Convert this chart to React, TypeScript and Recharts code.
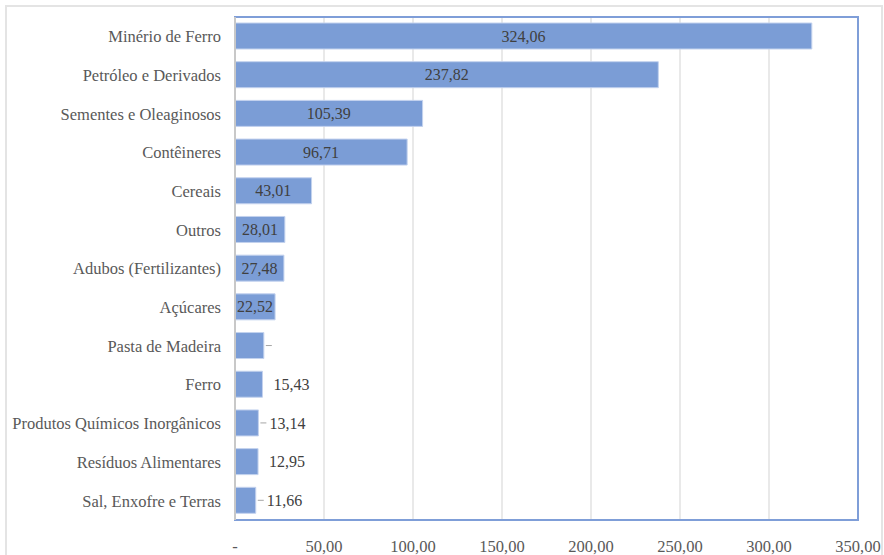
import React from "react";
import {
  BarChart, Bar, XAxis, YAxis, CartesianGrid, ReferenceArea, LabelList,
} from "recharts";

const categories = [
  "Minério de Ferro",
  "Petróleo e Derivados",
  "Sementes e Oleaginosos",
  "Contêineres",
  "Cereais",
  "Outros",
  "Adubos (Fertilizantes)",
  "Açúcares",
  "Pasta de Madeira",
  "Ferro",
  "Produtos Químicos Inorgânicos",
  "Resíduos Alimentares",
  "Sal, Enxofre e Terras",
];

const values = [324.06, 237.82, 105.39, 96.71, 43.01, 28.01, 27.48, 22.52, 16.2, 15.43, 13.14, 12.95, 11.66];

const xTicks = [0, 50, 100, 150, 200, 250, 300, 350];

// labels Excel left off, and the ones drawn with a short leader line
const hiddenLabels = ["Pasta de Madeira"];
const leaderLabels = ["Pasta de Madeira", "Produtos Químicos Inorgânicos", "Sal, Enxofre e Terras"];

const data = categories.map((name, i) => ({ name, value: values[i] }));

const fmt = (v: number) => (v === 0 ? "-" : v.toFixed(2).replace(".", ","));

const FONT = "Liberation Serif";
const BAR = "#7b9dd6";
const FRAME = "#7f9ed8";

function ValueLabel(props: any) {
  const { x, y, width, height, value, index } = props;
  const name = categories[index];
  const cy = y + height / 2;
  const end = x + width;
  const inside = value > 20;
  return (
    <g>
      {leaderLabels.includes(name) && (
        <line x1={end + 2} x2={end + 8} y1={cy} y2={cy} stroke="#a6a6a6" strokeWidth={1} />
      )}
      {!hiddenLabels.includes(name) && (
        <text
          x={inside ? x + width / 2 : end + 11}
          y={cy}
          dy="0.35em"
          textAnchor={inside ? "middle" : "start"}
          style={{ fontFamily: FONT, fontSize: 16 }}
          fill="#404040"
        >
          {fmt(value)}
        </text>
      )}
    </g>
  );
}

export default function App() {
  return (
    <div style={{ position: "fixed", left: 0, top: 0, width: 884, height: 555, background: "#fff", overflow: "hidden", fontFamily: FONT }}>
      <div style={{ position: "absolute", left: 5, top: 5, width: 874, height: 600, border: "2px solid #e4e4e4" }} />
      <div style={{ position: "absolute", left: 0, top: 0 }}>
        <BarChart
          width={884}
          height={555}
          data={data}
          layout="vertical"
          margin={{ top: 17, right: 26, bottom: 0, left: 0 }}
          barSize={26}
          style={{ fontFamily: FONT }}
        >
          <CartesianGrid horizontal={false} stroke="#e2e2e2" strokeWidth={1.5} />
          <XAxis
            type="number"
            domain={[0, 350]}
            ticks={xTicks}
            tickFormatter={fmt}
            height={35}
            axisLine={{ stroke: FRAME, strokeWidth: 2 }}
            tickLine={false}
            tickMargin={14}
            tick={{ fontSize: 16.5, fill: "#595959", style: { fontFamily: FONT } }}
          />
          <YAxis
            type="category"
            dataKey="name"
            width={235}
            axisLine={{ stroke: "#c8c8c8", strokeWidth: 2 }}
            tickLine={false}
            tickMargin={8}
            interval={0}
            tick={{ fontSize: 16.5, fill: "#595959", style: { fontFamily: FONT } }}
          />
          <ReferenceArea x1={0} x2={350} fill="none" stroke={FRAME} strokeWidth={2} fillOpacity={0} />
          <Bar dataKey="value" fill={BAR} stroke="#c3d2ee" strokeWidth={1} isAnimationActive={false}>
            <LabelList dataKey="value" content={<ValueLabel />} />
          </Bar>
        </BarChart>
      </div>
    </div>
  );
}
